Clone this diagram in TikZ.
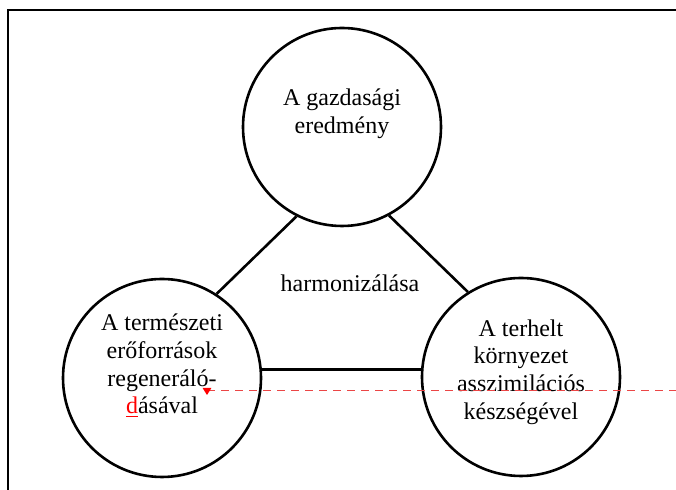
\documentclass[tikz,border=0pt]{standalone}
\usepackage{fontspec}
\setmainfont{Liberation Serif}
\usepackage{tikz}
\usetikzlibrary{positioning, arrows.meta, calc}
\definecolor{trackred}{RGB}{235, 70, 70}

\begin{document}
\begin{tikzpicture}[x=0.5pt, y=-0.5pt,
    circ/.style={draw, circle, line width=1.3pt, minimum size=99pt, inner sep=0pt},
    txt/.style={align=center, font=\fontsize{12}{13.8}\selectfont, inner sep=0pt},
    link/.style={line width=1.3pt}]
\useasboundingbox (0,0) rectangle (676,490);
\draw[line width=0.6pt] (8,490) -- (8,10) -- (676,10);

\node[circ] (top) at (342,127) {};
\node[circ] (left) at (162,378) {};
\node[circ] (right) at (521,377) {};

\node[txt] (toptxt) at ([yshift=6.5pt]top.center) {A gazdasági\\eredmény};
\node[txt] (lefttxt) at ([yshift=6pt]left.center) {A természeti\\erőforrások\\regeneráló-\\\textcolor{red}{\underline{d}}ásával};
\node[txt] (righttxt) at ([yshift=2.5pt]right.center) {A terhelt\\környezet\\asszimilációs\\készségével};
\node[txt] (mid) at (350,283) {harmonizálása};

\draw[link] (top.243) -- (left.57);
\draw[link] (top.298) -- (right.122);
\draw[link] (left.5) -- (left.5 -| right.west);

\coordinate (mark) at (207,391);
\coordinate (edge) at (676,391);
\draw[trackred, line width=0.5pt, dash pattern=on 4pt off 3pt] (mark) -- (edge);
\fill[red] ([yshift=-2pt]mark) -- ++(-2.2pt,3.5pt) -- ++(4.4pt,0) -- cycle;
\end{tikzpicture}
\end{document}
